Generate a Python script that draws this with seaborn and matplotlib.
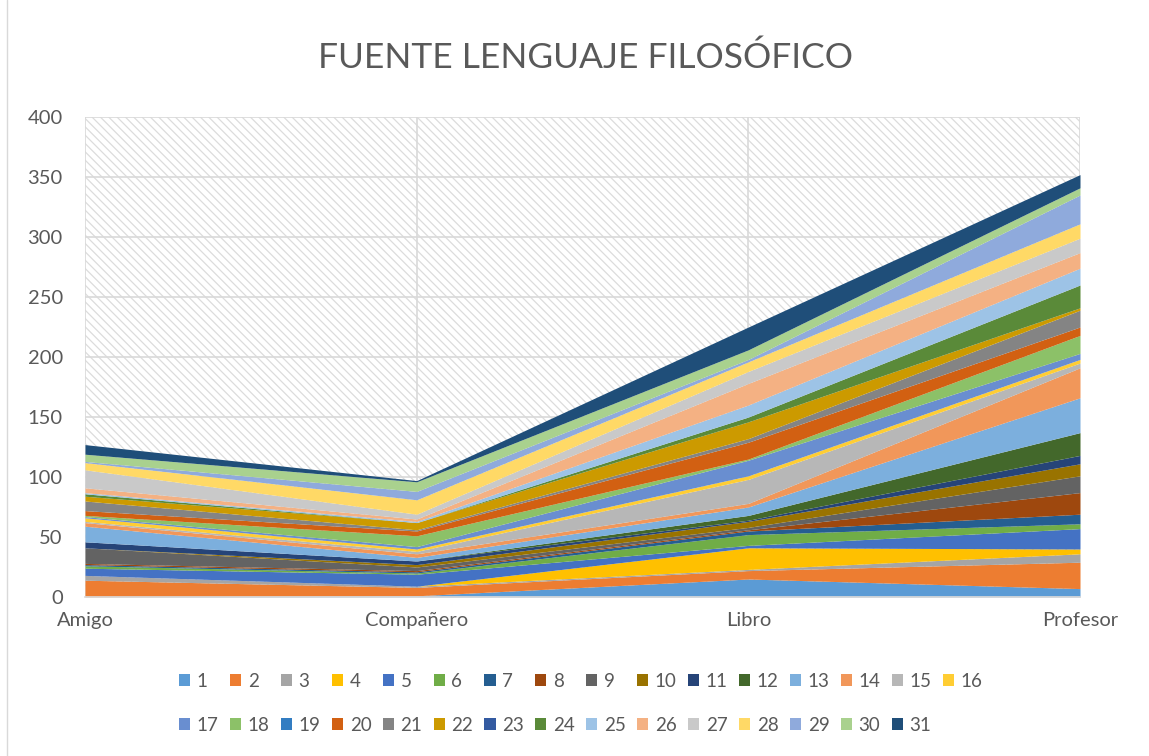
import numpy as np
import pandas as pd
import matplotlib.pyplot as plt
import seaborn as sns
from matplotlib.patches import Patch, Rectangle
from matplotlib.lines import Line2D

# categories on the x axis
categorias = ["Amigo", "Compañero", "Libro", "Profesor"]

# one list per respondent (1..31): Amigo, Compañero, Libro, Profesor
s1 = [0, 1, 15, 7]
s2 = [14, 7, 7, 22]
s3 = [4, 1, 1, 7]
s4 = [0, 0, 18, 4]
s5 = [6, 10, 2, 17]
s6 = [2, 1, 9, 4]
s7 = [1, 1, 3, 8]
s8 = [1, 1, 1, 18]
s9 = [13, 3, 2, 14]
s10 = [0, 2, 5, 10]
s11 = [5, 3, 1, 7]
s12 = [0, 0, 4, 19]
s13 = [13, 3, 7, 29]
s14 = [3, 3, 3, 25]
s15 = [1, 2, 20, 4]
s16 = [3, 2, 3, 3]
s17 = [1, 2, 13, 5]
s18 = [1, 9, 1, 15]
s19 = [0, 0, 0, 0]
s20 = [4, 4, 14, 7]
s21 = [8, 1, 3, 14]
s22 = [4, 6, 14, 2]
s23 = [0, 0, 0, 0]
s24 = [2, 0, 4, 19]
s25 = [1, 1, 10, 14]
s26 = [4, 2, 18, 13]
s27 = [15, 4, 10, 12]
s28 = [6, 12, 8, 12]
s29 = [1, 7, 2, 24]
s30 = [6, 8, 8, 6]
s31 = [8, 1, 19, 11]

series = [s1, s2, s3, s4, s5, s6, s7, s8, s9, s10, s11, s12, s13, s14, s15, s16,
          s17, s18, s19, s20, s21, s22, s23, s24, s25, s26, s27, s28, s29, s30, s31]
nombres = [str(i) for i in range(1, 32)]

colores = ["#5B9BD5", "#ED7D31", "#A5A5A5", "#FFC000", "#4472C4", "#70AD47",
           "#255E91", "#9E480E", "#636363", "#997300", "#264478", "#43682B",
           "#7CAFDD", "#F1975A", "#B7B7B7", "#FFCD33", "#698ED0", "#8CC168",
           "#327DC2", "#D26012", "#848484", "#CC9A00", "#335AA1", "#5A8A39",
           "#9DC3E6", "#F4B183", "#C9C9C9", "#FFD966", "#8FAADC", "#A9D18E",
           "#1F4E79"]

df = pd.DataFrame(dict(zip(nombres, series)), index=categorias)

sns.set_theme(style="white")
plt.rcParams['font.family'] = ['Lato', 'DejaVu Sans']

fig = plt.figure(figsize=(11.49, 7.56), dpi=100)
ax = fig.add_axes([85 / 1149, 1 - 597 / 756, (1080 - 85) / 1149, (597 - 117) / 756])

# hatched plot area background like the excel pattern fill
plt.rcParams['hatch.linewidth'] = 0.9
ax.add_patch(Rectangle((0, 0), 1, 1, transform=ax.transAxes, facecolor="white",
                       edgecolor="#DCDCDC", hatch="\\\\\\\\", lw=0, zorder=0))

x = np.arange(len(categorias))
ax.stackplot(x, df.T.values, colors=colores, labels=nombres, lw=0, zorder=2)

ax.set_xlim(0, 3)
ax.set_ylim(0, 400)
ax.set_yticks(range(0, 401, 50))
ax.set_xticks(x)
ax.set_xticklabels(categorias)
ax.grid(True, color="#D9D9D9", lw=1.2, zorder=1)
ax.set_axisbelow(True)
for sp in ax.spines.values():
    sp.set_visible(False)
ax.spines["bottom"].set_visible(True)
ax.spines["bottom"].set_color("#D9D9D9")
ax.tick_params(axis="both", length=0, labelsize=14.5, labelcolor="#595959")
ax.tick_params(axis="y", pad=16)
ax.tick_params(axis="x", pad=11)

fig.suptitle("FUENTE LENGUAJE FILOSÓFICO", x=586 / 1149, y=1 - 58 / 756, va="center",
             fontsize=25.5, color="#595959")

# legend: 16 on first row, 15 on second, row-major order
handles = [Patch(facecolor=c, edgecolor="none") for c in colores]
orden = []
for k in range(15):
    orden += [k, k + 16]
orden.append(15)
fig.legend([handles[i] for i in orden], [nombres[i] for i in orden], ncol=16,
           loc="upper left", bbox_to_anchor=(179 / 1149, 1 - 673 / 756),
           frameon=False, fontsize=13.5, labelcolor="#595959",
           handlelength=0.6, handleheight=0.6, handletextpad=0.35,
           columnspacing=0.6, labelspacing=1.42, borderpad=0, borderaxespad=0)

fig.add_artist(Line2D([7 / 1149, 7 / 1149], [0, 1], color="#D9D9D9", lw=1))

plt.savefig("out.png", dpi=100)
